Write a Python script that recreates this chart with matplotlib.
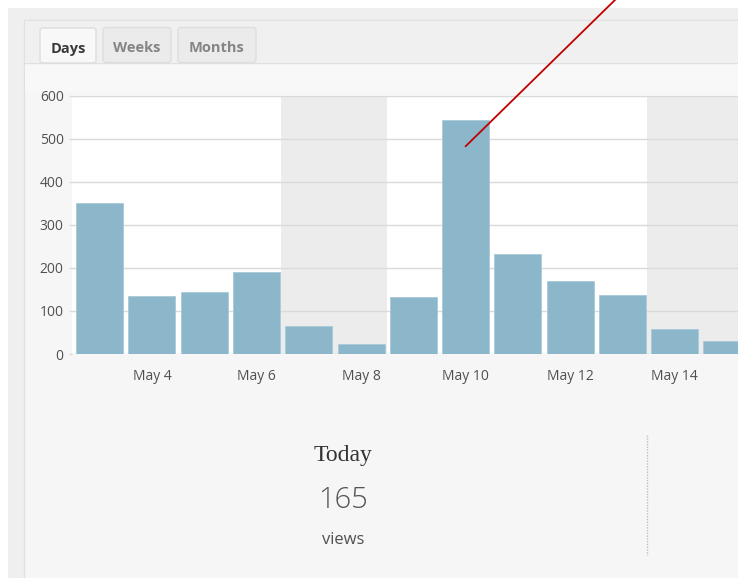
import matplotlib.pyplot as plt
import numpy as np
from matplotlib.patches import Rectangle, FancyBboxPatch
from matplotlib.lines import Line2D

# daily views, May 3 .. May 15
days = [3, 4, 5, 6, 7, 8, 9, 10, 11, 12, 13, 14, 15]
views = [350, 135, 144, 191, 65, 24, 132, 545, 233, 169, 137, 57, 30]
weekend_days = [7, 8, 14, 15]
tick_days = [4, 6, 8, 10, 12, 14]
tick_labels = ["May 4", "May 6", "May 8", "May 10", "May 12", "May 14"]
yticks = [0, 100, 200, 300, 400, 500, 600]
tabs = ["Days", "Weeks", "Months"]
today_views = 165
# where the red pointer lands on the chart
pointer_day = 10
pointer_value = 483

W, H = 738, 578
fig = plt.figure(figsize=(W / 100, H / 100), dpi=100)
fig.patch.set_facecolor("white")


def px(x, y):
    # pixel coords from top-left -> figure fraction
    return x / W, 1 - y / H


def rect(x0, y0, x1, y1, fc, ec="none", lw=0):
    fx, fy = px(x0, y1)
    r = Rectangle((fx, fy), (x1 - x0) / W, (y1 - y0) / H, transform=fig.transFigure,
                  facecolor=fc, edgecolor=ec, linewidth=lw, zorder=-10)
    fig.add_artist(r)


# page panels
rect(8, 8, W + 5, H + 5, "#efefef")
rect(24, 20, W + 5, H + 5, "#f6f6f6", ec="#e0e0e0", lw=1)
rect(25, 21, W + 5, 62, "#f0f0f0")
fig.add_artist(Line2D([25 / W, 1], [1 - 62.5 / H] * 2, color="#e0e0e0", lw=1,
                      transform=fig.transFigure, zorder=-9))
rect(25, 63, W + 5, 92, "#f8f8f8")

# tabs
tab_x = [(40, 96), (103, 171), (178, 256)]
for (x0, x1), name in zip(tab_x, tabs):
    active = name == "Days"
    fx, fy = px(x0, 63 if active else 62.5)
    tab = FancyBboxPatch((fx, fy), (x1 - x0) / W, 35 / H,
                         boxstyle="round,pad=0,rounding_size=0.004",
                         transform=fig.transFigure,
                         facecolor="#f8f8f8" if active else "#ebebeb",
                         edgecolor="#dedede", linewidth=1, zorder=-8)
    fig.add_artist(tab)
    tx, ty = px((x0 + x1) / 2, 48.5)
    fig.text(tx, ty, name, ha="center", va="center", fontsize=10.5,
             family="Open Sans", weight="bold",
             color="#3a3a3a" if active else "#858585")
# cover the bottom border of the active tab
rect(41, 61, 95, 65, "#f8f8f8")

# chart
x = np.arange(len(days))
ax_left, ax_top, ax_bottom = 72, 96, 354
ax = fig.add_axes([ax_left / W, 1 - ax_bottom / H, 1 - ax_left / W, (ax_bottom - ax_top) / H])
ax.set_facecolor("white")
pitch = 52.27
ax.set_xlim(-0.53, -0.53 + (W - ax_left) / pitch)
ax.set_ylim(0, 600)

for d in weekend_days:
    i = days.index(d)
    ax.axvspan(i - 0.53, i + 0.5, color="#ececec", lw=0, zorder=0)

ax.set_yticks(yticks)
ax.yaxis.grid(True, color="#dadada", lw=1, zorder=1)
ax.set_axisbelow(False)
ax.bar(x, views, width=0.9, color="#8cb7cb", edgecolor="#a9cad9", linewidth=0.6, zorder=3)

ax.set_xticks([days.index(d) for d in tick_days])
ax.set_xticklabels(tick_labels)
for s in ax.spines.values():
    s.set_visible(False)
ax.tick_params(axis="x", length=0, pad=11, labelsize=10, labelcolor="#505050")
ax.tick_params(axis="y", length=2, width=1, color="#dadada", pad=4, labelsize=10,
               labelcolor="#505050")
for lab in ax.get_xticklabels() + ax.get_yticklabels():
    lab.set_family("Open Sans")

# red pointer line
ax.annotate("", xy=(days.index(pointer_day), pointer_value), xycoords="data",
            xytext=(617, H + 2), textcoords="figure pixels",
            arrowprops=dict(arrowstyle="-", color="#c00000", lw=1.3,
                            shrinkA=0, shrinkB=0),
            annotation_clip=False, zorder=5)

# summary block
tx, ty = px(343, 455)
fig.text(tx, ty, "Today", ha="center", va="center", fontsize=17,
         family="Liberation Serif", color="#333333")
tx, ty = px(343, 500)
fig.text(tx, ty, str(today_views), ha="center", va="center", fontsize=21,
         family="Open Sans", weight="light", color="#555555")
tx, ty = px(343, 540)
fig.text(tx, ty, "views", ha="center", va="center", fontsize=12,
         family="Open Sans", color="#505050")
fig.add_artist(Line2D([647 / W] * 2, [1 - 435 / H, 1 - 555 / H], color="#c0c0c0",
                      lw=1, linestyle=(0, (1, 1)), transform=fig.transFigure))

fig.savefig("out.png", dpi=100)
